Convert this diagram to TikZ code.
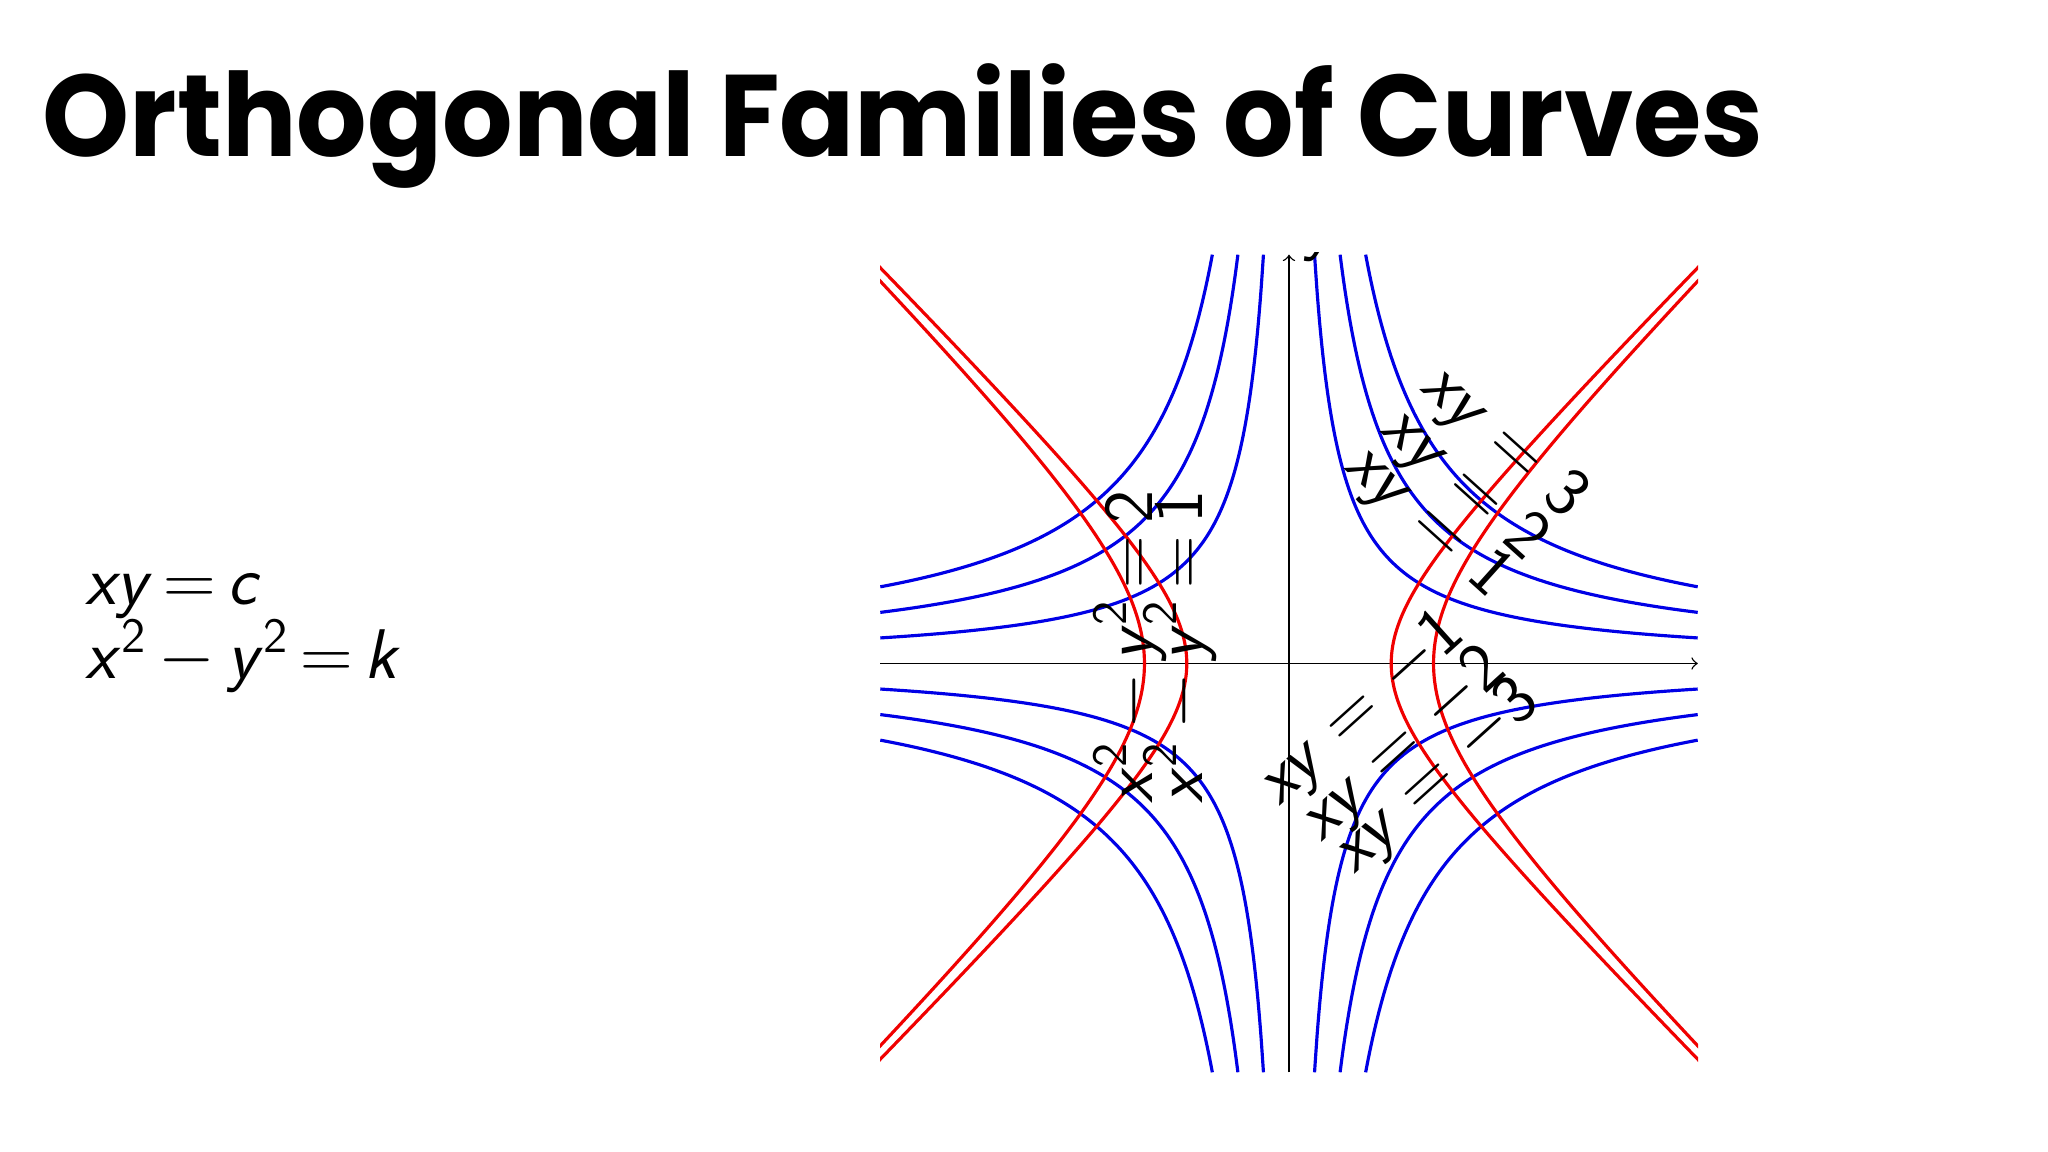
\documentclass[tikz,border=0pt]{standalone}
\usepackage{fontspec}
\newfontfamily\titlefont{Poppins}[UprightFont=* Bold]
\newcommand{\vv}[1]{\textsf{\textit{#1}}}
\newcommand{\sq}{\textsuperscript{\sffamily 2}}
\tikzset{
  blue curve/.style={draw={rgb,255:red,0;green,0;blue,230},line width=0.9pt},
  red curve/.style={draw={rgb,255:red,240;green,0;blue,0},line width=0.9pt},
  axisline/.style={draw=black,line width=0.4pt},
  clabel/.style={font=\fontsize{20}{24}\selectfont\sffamily,inner sep=0pt}
}
\begin{document}
\begin{tikzpicture}
\useasboundingbox (0,0) rectangle (20.48,11.52);
\node[anchor=base west,inner sep=0pt,font=\titlefont\fontsize{33}{40}\selectfont] (title) at (0.42,9.95) {\scalebox{0.955}[1]{Orthogonal Families of Curves}};
\node[anchor=base west,inner sep=0pt,font=\fontsize{20}{24}\selectfont] (eq1) at (0.85,5.47) {\vv{xy}\,$=$\,\vv{c}};
\node[anchor=base west,inner sep=0pt,font=\fontsize{20}{24}\selectfont] (eq2) at (0.85,4.73) {\vv{x}\sq\,$-$\,\vv{y}\sq\,$=$\,\vv{k}};
\begin{scope}
\clip (8.80,0.78) rectangle (16.98,8.99);
\begin{scope}[shift={(12.89,4.885)},x=1.022cm,y=1.022cm]
\coordinate (xs) at (-4,0); \coordinate (xe) at (4,0);
\coordinate (ys) at (0,-4); \coordinate (ye) at (0,4);
\draw[axisline,->] (xs) -- (xe);
\draw[axisline,->] (ys) -- (ye);
\foreach \c in {1,2,3}{
  \draw[blue curve] plot[domain=\c/4:4,samples=150,smooth] (\x,{\c/\x});
  \draw[blue curve] plot[domain=\c/4:4,samples=150,smooth] (-\x,{-\c/\x});
  \draw[blue curve] plot[domain=\c/4:4,samples=150,smooth] (-\x,{\c/\x});
  \draw[blue curve] plot[domain=\c/4:4,samples=150,smooth] (\x,{-\c/\x});
}
\foreach \k in {1,2}{
  \draw[red curve] plot[domain=-2.2:2.2,samples=120,smooth,variable=\t] ({sqrt(\k)*cosh(\t)},{sqrt(\k)*sinh(\t)});
  \draw[red curve] plot[domain=-2.2:2.2,samples=120,smooth,variable=\t] ({-sqrt(\k)*cosh(\t)},{sqrt(\k)*sinh(\t)});
}
\end{scope}
\node[clabel] (ylab) at (13.22,9.12) {\vv{y}};
\end{scope}
\node[clabel,rotate=90] (l1) at (11.30,5.05) {\vv{x}\sq\,$-$\,\vv{y}\sq\,$=$\,2};
\node[clabel,rotate=90] (l2) at (11.80,5.05) {\vv{x}\sq\,$-$\,\vv{y}\sq\,$=$\,1};
\node[clabel,rotate=-42] (p1) at (14.27,6.30) {\vv{xy} $=$ 1};
\node[clabel,rotate=-42] (p2) at (14.63,6.67) {\vv{xy} $=$ 2};
\node[clabel,rotate=-42] (p3) at (15.03,7.09) {\vv{xy} $=$ 3};
\node[clabel,rotate=42] (n1) at (13.62,4.42) {\vv{xy} $=$ $-$1};
\node[clabel,rotate=42] (n2) at (14.04,4.06) {\vv{xy} $=$ $-$2};
\node[clabel,rotate=42] (n3) at (14.37,3.74) {\vv{xy} $=$ $-$3};
\end{tikzpicture}
\end{document}
